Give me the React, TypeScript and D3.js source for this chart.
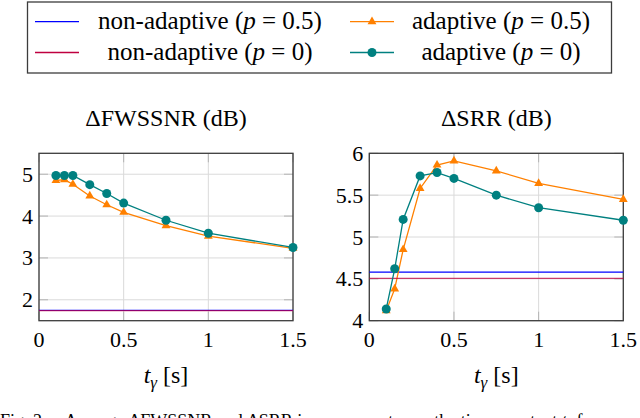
import React, { useEffect, useState } from "react";
import * as d3 from "d3";

// time constants (s)
const tGamma = [0.1, 0.15, 0.2, 0.3, 0.4, 0.5, 0.75, 1.0, 1.5];

// ΔFWSSNR (dB)
const fwssnrAdaptiveP05 = [4.85, 4.87, 4.76, 4.48, 4.27, 4.09, 3.77, 3.52, 3.23];
const fwssnrAdaptiveP0 = [4.97, 4.97, 4.97, 4.75, 4.54, 4.31, 3.9, 3.59, 3.25];
const fwssnrNonAdaptive = [1.745, 1.74]; // p = 0.5, p = 0

// ΔSRR (dB)
const srrAdaptiveP05 = [4.12, 4.38, 4.85, 5.58, 5.86, 5.91, 5.79, 5.64, 5.45];
const srrAdaptiveP0 = [4.14, 4.62, 5.21, 5.73, 5.77, 5.7, 5.5, 5.35, 5.2];
const srrNonAdaptive = [4.58, 4.505];

const xTicks = [0, 0.5, 1, 1.5];
const fwssnrTicks = [2, 3, 4, 5];
const srrTicks = [4, 4.5, 5, 5.5, 6];

const BLUE = "#0000ff";
const ORANGE = "#ff8000";
const PURPLE = "#bf0040";
const TEAL = "#008080";

const FONT = "Liberation Serif";

interface PanelProps {
  left: number;
  title: string;
  yDomain: [number, number];
  yTicks: number[];
  adaptiveP05: number[];
  adaptiveP0: number[];
  nonAdaptive: number[];
}

const plotTop = 153.3;
const plotBottom = 320.7;
const plotWidth = 254;

const Panel: React.FC<PanelProps> = ({ left, title, yDomain, yTicks, adaptiveP05, adaptiveP0, nonAdaptive }) => {
  const x = d3.scaleLinear().domain([0, 1.5]).range([left, left + plotWidth]);
  const y = d3.scaleLinear().domain(yDomain).range([plotBottom, plotTop]);
  const line = d3
    .line<number>()
    .x((_, i) => x(tGamma[i]))
    .y((d) => y(d));
  const tri = d3.symbol(d3.symbolTriangle, 34)()!;
  const tickLen = 9;

  return (
    <g>
      {/* grid */}
      {xTicks.map((t) => (
        <line key={"gx" + t} x1={x(t)} x2={x(t)} y1={plotTop} y2={plotBottom} stroke="#dadada" strokeWidth={1} />
      ))}
      {yTicks.map((t) => (
        <line key={"gy" + t} x1={left} x2={left + plotWidth} y1={y(t)} y2={y(t)} stroke="#dadada" strokeWidth={1} />
      ))}
      {/* ticks */}
      {xTicks.map((t) => (
        <g key={"tx" + t} stroke="#b4b4b4" strokeWidth={1}>
          <line x1={x(t)} x2={x(t)} y1={plotBottom} y2={plotBottom - tickLen} />
          <line x1={x(t)} x2={x(t)} y1={plotTop} y2={plotTop + tickLen} />
        </g>
      ))}
      {yTicks.map((t) => (
        <g key={"ty" + t} stroke="#b4b4b4" strokeWidth={1}>
          <line x1={left} x2={left + tickLen} y1={y(t)} y2={y(t)} />
          <line x1={left + plotWidth} x2={left + plotWidth - tickLen} y1={y(t)} y2={y(t)} />
        </g>
      ))}
      <rect
        x={left}
        y={plotTop}
        width={plotWidth}
        height={plotBottom - plotTop}
        fill="none"
        stroke="#3c3c3c"
        strokeWidth={1.3}
      />

      {/* tick labels */}
      {xTicks.map((t) => (
        <text key={"lx" + t} x={x(t)} y={347} textAnchor="middle" fontSize={22} style={{ fontFamily: FONT }}>
          {String(t)}
        </text>
      ))}
      {yTicks.map((t) => (
        <text key={"ly" + t} x={left - 6} y={y(t) + 7.5} textAnchor="end" fontSize={22} style={{ fontFamily: FONT }}>
          {String(t)}
        </text>
      ))}

      {/* series */}
      <line
        x1={left}
        x2={left + plotWidth}
        y1={y(nonAdaptive[0])}
        y2={y(nonAdaptive[0])}
        stroke={BLUE}
        strokeWidth={1.3}
      />
      <path d={line(adaptiveP05)!} fill="none" stroke={ORANGE} strokeWidth={1.3} />
      {adaptiveP05.map((v, i) => (
        <path key={"o" + i} d={tri} transform={`translate(${x(tGamma[i])},${y(v)})`} fill={ORANGE} />
      ))}
      <line
        x1={left}
        x2={left + plotWidth}
        y1={y(nonAdaptive[1])}
        y2={y(nonAdaptive[1])}
        stroke={PURPLE}
        strokeOpacity={0.75}
        strokeWidth={1.3}
      />
      <path d={line(adaptiveP0)!} fill="none" stroke={TEAL} strokeWidth={1.3} />
      {adaptiveP0.map((v, i) => (
        <circle key={"c" + i} cx={x(tGamma[i])} cy={y(v)} r={4.5} fill={TEAL} />
      ))}

      {/* title and axis label */}
      <text x={left + plotWidth / 2} y={126} textAnchor="middle" fontSize={24} style={{ fontFamily: FONT }}>
        {title}
      </text>
      <text x={left + plotWidth / 2} y={383} textAnchor="middle" fontSize={24} style={{ fontFamily: FONT }}>
        <tspan fontStyle="italic">t</tspan>
        <tspan fontStyle="italic" fontSize={17} dy={5}>
          γ
        </tspan>
        <tspan dy={-5}> [s]</tspan>
      </text>
    </g>
  );
};

const legendItems = [
  { label: "non-adaptive", p: "0.5", color: BLUE, marker: "none", cx: 35, tx: 210, row: 0 },
  { label: "adaptive", p: "0.5", color: ORANGE, marker: "tri", cx: 350, tx: 501, row: 0 },
  { label: "non-adaptive", p: "0", color: PURPLE, marker: "none", cx: 35, tx: 210, row: 1 },
  { label: "adaptive", p: "0", color: TEAL, marker: "circ", cx: 350, tx: 501, row: 1 },
];

const Legend: React.FC = () => {
  const tri = d3.symbol(d3.symbolTriangle, 34)()!;
  return (
    <g>
      <rect x={27.5} y={2} width={584} height={71} fill="white" stroke="#3c3c3c" strokeWidth={1.3} />
      {legendItems.map((it, i) => {
        const yy = it.row === 0 ? 21.7 : 52.5;
        return (
          <g key={i}>
            <line x1={it.cx} x2={it.cx + 44} y1={yy} y2={yy} stroke={it.color} strokeWidth={1.3} />
            {it.marker === "tri" && <path d={tri} transform={`translate(${it.cx + 22},${yy})`} fill={it.color} />}
            {it.marker === "circ" && <circle cx={it.cx + 22} cy={yy} r={4.5} fill={it.color} />}
            <text x={it.tx} y={yy + 7} textAnchor="middle" fontSize={25} style={{ fontFamily: FONT }}>
              {it.label} (<tspan fontStyle="italic">p</tspan> = {it.p})
            </text>
          </g>
        );
      })}
    </g>
  );
};

export default function App() {
  const [fontsReady, setFontsReady] = useState(false);

  useEffect(() => {
    // make sure the serif face is loaded before the final layout
    const fonts = (document as any).fonts;
    if (fonts && fonts.load) {
      fonts
        .load(`24px "${FONT}"`)
        .then(() => setFontsReady(true))
        .catch(() => setFontsReady(true));
    } else {
      setFontsReady(true);
    }
  }, []);

  return (
    <svg
      key={fontsReady ? "ready" : "loading"}
      width={640}
      height={418}
      style={{ position: "absolute", left: 0, top: 0, background: "white", fontFamily: FONT }}
    >
      <style>{"text, tspan { font-family: 'Liberation Serif', serif; }"}</style>
      <Legend />
      <Panel
        left={39}
        title="ΔFWSSNR (dB)"
        yDomain={[1.5, 5.5]}
        yTicks={fwssnrTicks}
        adaptiveP05={fwssnrAdaptiveP05}
        adaptiveP0={fwssnrAdaptiveP0}
        nonAdaptive={fwssnrNonAdaptive}
      />
      <Panel
        left={369.3}
        title="ΔSRR (dB)"
        yDomain={[4, 6]}
        yTicks={srrTicks}
        adaptiveP05={srrAdaptiveP05}
        adaptiveP0={srrAdaptiveP0}
        nonAdaptive={srrNonAdaptive}
      />
      <text x={0} y={427} fontSize={18} style={{ fontFamily: FONT }}>
        Fig. 2.{"\u2003"}Average ΔFWSSNR and ΔSRR improvement over the time constant{" "}
        <tspan fontStyle="italic">t</tspan>
        <tspan fontStyle="italic" fontSize={13} dy={3}>
          γ
        </tspan>
        <tspan dy={-3}> for</tspan>
      </text>
    </svg>
  );
}
